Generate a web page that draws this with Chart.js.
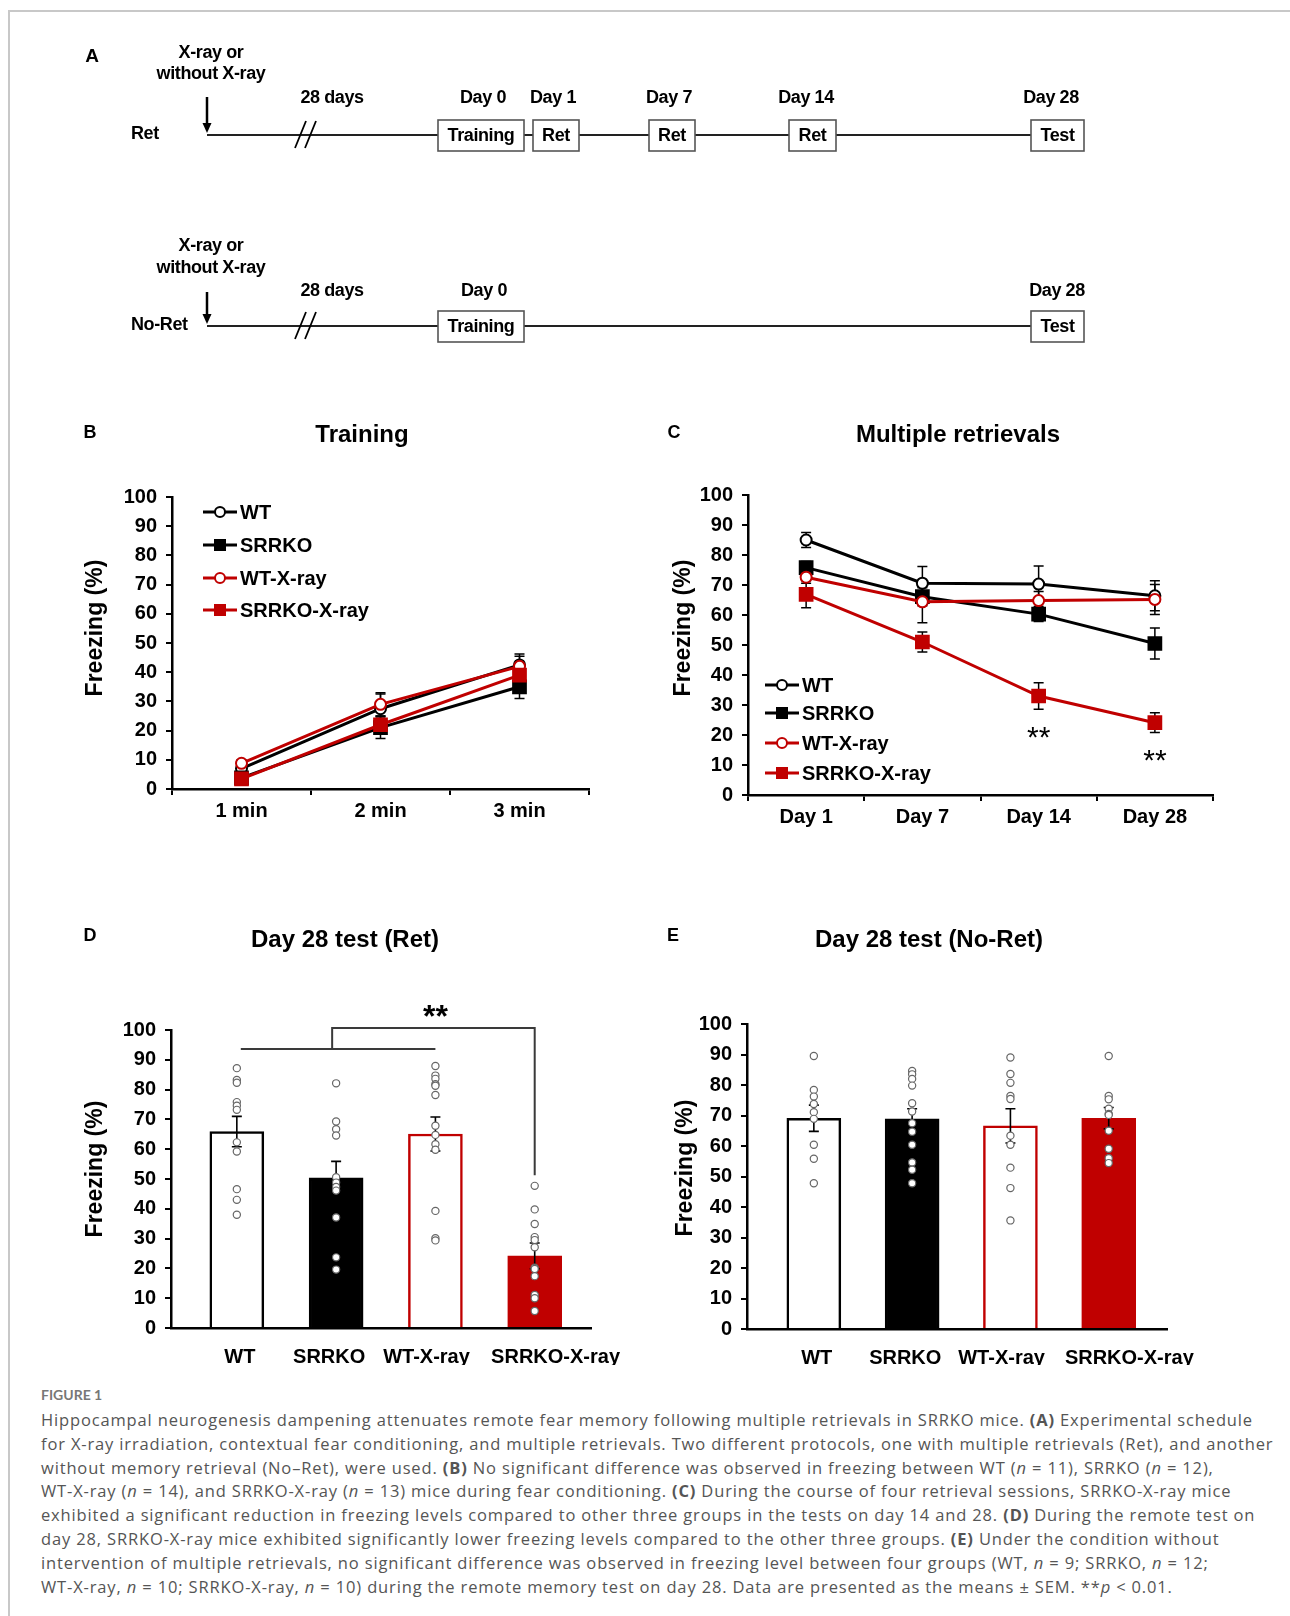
<!DOCTYPE html>
<html>
<head>
<meta charset="utf-8">
<script src="https://cdn.jsdelivr.net/npm/chart.js@4.4.0/dist/chart.umd.min.js"></script>
<style>
  body { margin: 0; background: #fff; }
  #page { position: relative; width: 1290px; height: 1616px; overflow: hidden; background: #fff;
          font-family: "Liberation Sans", Arial, sans-serif; }
  .frame { position: absolute; left: 8px; top: 10px; width: 1300px; height: 1620px;
           border-top: 2px solid #c8c8c8; border-left: 2px solid #c8c8c8; }
  canvas { position: absolute; }
  svg { position: absolute; left: 0; top: 0; pointer-events: none; }
  .figno { position: absolute; left: 41px; top: 1386px; font-family: Lato, "Open Sans", sans-serif;
           font-size: 14px; font-weight: bold; color: #777; }
  .caption { position: absolute; left: 41px; top: 1408px; font-family: "Open Sans", Lato, sans-serif;
             font-size: 16.5px; line-height: 23.8px; color: #555; white-space: nowrap; }
  .capline { display: inline-block; }
</style>
</head>
<body>
<div id="page">
  <div class="frame"></div>
  <canvas id="chartB"></canvas>
  <canvas id="chartC"></canvas>
  <canvas id="chartD"></canvas>
  <canvas id="chartE"></canvas>
  <svg id="overlay" width="1290" height="1380"></svg>
  <div class="figno">FIGURE 1</div>
  <div class="caption">
<div><span class="capline">Hippocampal neurogenesis dampening attenuates remote fear memory following multiple retrievals in SRRKO mice. <b>(A)</b> Experimental schedule</span></div>
<div><span class="capline">for X-ray irradiation, contextual fear conditioning, and multiple retrievals. Two different protocols, one with multiple retrievals (Ret), and another</span></div>
<div><span class="capline">without memory retrieval (No–Ret), were used. <b>(B)</b> No significant difference was observed in freezing between WT (<i>n</i> = 11), SRRKO (<i>n</i> = 12),</span></div>
<div><span class="capline">WT-X-ray (<i>n</i> = 14), and SRRKO-X-ray (<i>n</i> = 13) mice during fear conditioning. <b>(C)</b> During the course of four retrieval sessions, SRRKO-X-ray mice</span></div>
<div><span class="capline">exhibited a significant reduction in freezing levels compared to other three groups in the tests on day 14 and 28. <b>(D)</b> During the remote test on</span></div>
<div><span class="capline">day 28, SRRKO-X-ray mice exhibited significantly lower freezing levels compared to the other three groups. <b>(E)</b> Under the condition without</span></div>
<div><span class="capline">intervention of multiple retrievals, no significant difference was observed in freezing level between four groups (WT, <i>n</i> = 9; SRRKO, <i>n</i> = 12;</span></div>
<div><span class="capline">WT-X-ray, <i>n</i> = 10; SRRKO-X-ray, <i>n</i> = 10) during the remote memory test on day 28. Data are presented as the means ± SEM. **<i>p</i> &lt; 0.01.</span></div>
  </div>
</div>

<script>
// ---- data ----
const groups = ["WT", "SRRKO", "WT-X-ray", "SRRKO-X-ray"];
const yTicks = [0, 10, 20, 30, 40, 50, 60, 70, 80, 90, 100];

// B: training
const trainingLabels = ["1 min", "2 min", "3 min"];
const trainWT = [7, 27.5, 42.5];
const trainSRRKO = [3.8, 21, 35];
const trainWTX = [8.8, 29, 42];
const trainSRRKOX = [3.5, 22, 39];
const trainErrWT = [1.5, 5, 3.7];
const trainErrSRRKO = [1, 3.7, 4];
const trainErrWTX = [1.2, 4, 3.5];
const trainErrSRRKOX = [1, 3, 3];

// C: multiple retrievals
const retrievalLabels = ["Day 1", "Day 7", "Day 14", "Day 28"];
const retWT = [85, 70.6, 70.3, 66.4];
const retSRRKO = [75.8, 66.1, 60.3, 50.5];
const retWTX = [72.6, 64.4, 64.8, 65.2];
const retSRRKOX = [66.9, 51, 33, 24.1];
const retErrWT = [2.5, 5.6, 6, 5];
const retErrSRRKO = [2, 3, 2.5, 5.2];
const retErrWTX = [2, 7, 3, 5];
const retErrSRRKOX = [4.5, 3.3, 4.4, 3.3];
const retSigMarks = [{ index: 2, y: 21.7 }, { index: 3, y: 14.3 }];

// D / E group label positions on the x axis (labels sit a little off the bar centres)
const groupLabelPos = [0.03, 0.93, 1.91, 3.21];

// D: day 28 test (Ret)
const retTestMeans = [65.9, 50.4, 65.1, 24.2];
const retTestErr = [5.1, 5.5, 5.7, 4.3];
const retDotsWT = [87.2, 83.2, 82.3, 75.8, 74.6, 73.2, 62.3, 59.2, 46.6, 43.0, 38.0];
const retDotsSRRKO = [82.1, 69.3, 66.7, 64.6, 50.6, 48.8, 47.3, 46.1, 37.1, 23.7, 19.6];
const retDotsWTX = [87.9, 84.7, 83.6, 81.8, 81.3, 78.2, 67.9, 64.8, 61.7, 59.8, 39.3, 30.1, 29.4];
const retDotsSRRKOX = [47.7, 39.8, 34.9, 30.5, 29.5, 27.1, 20.2, 19.8, 17.4, 11.1, 10.0, 5.7];
const retBracket = { lowFrom: 0.04, lowTo: 2.0, join: 0.96, lowY: 93.6, topY: 100.7, to: 3.0, dropTo: 51.3, starX: 2.0, starY: 107.4 };

// E: day 28 test (No-Ret)
const noRetMeans = [69.1, 68.9, 66.6, 69.1];
const noRetErr = [4.3, 3.3, 5.6, 3.5];
const noRetDotsWT = [89.5, 78.4, 76.2, 73.8, 71.1, 68.9, 60.4, 55.8, 47.8];
const noRetDotsSRRKO = [84.6, 83.5, 82.0, 79.8, 74.0, 71.3, 67.5, 64.7, 60.4, 54.6, 52.2, 47.8];
const noRetDotsWTX = [89.0, 83.6, 80.7, 76.4, 75.4, 63.4, 60.4, 52.9, 46.2, 35.6];
const noRetDotsSRRKOX = [89.5, 76.4, 75.3, 72.2, 70.5, 70.2, 65.0, 59.1, 56.0, 54.4];

// ---- styles ----
const RED = "#c00000";
const FONT = "'Liberation Sans', Arial, sans-serif";
const seriesStyle = [
  { color: "#000", point: "circle", fill: "#fff", r: 5.5 },
  { color: "#000", point: "rect", fill: "#000", r: 9 },
  { color: RED, point: "circle", fill: "#fff", r: 5.5 },
  { color: RED, point: "rect", fill: RED, r: 9 }
];
const barFill = ["#fff", "#000", "#fff", RED];
const barEdge = ["#000", "#000", RED, RED];

function bold(size) { return { family: FONT, size: size, weight: "bold" }; }

// error bars (whiskers with caps)
function drawErrors(chart, i, opts) {
  const ds = chart.data.datasets[i];
  if (!ds.errors) return;
  const meta = chart.getDatasetMeta(i);
  const y = chart.scales.y;
  const ctx = chart.ctx;
  ctx.save();
  ctx.strokeStyle = "#000";
  ctx.lineWidth = opts.width;
  ds.errors.forEach((e, j) => {
    const raw = ds.data[j];
    const v = typeof raw === "object" ? raw.y : raw;
    const x = meta.data[j].x;
    const top = y.getPixelForValue(v + e), bot = y.getPixelForValue(v - e);
    ctx.beginPath();
    ctx.moveTo(x, top); ctx.lineTo(x, bot);
    ctx.moveTo(x - opts.cap, top); ctx.lineTo(x + opts.cap, top);
    ctx.moveTo(x - opts.cap, bot); ctx.lineTo(x + opts.cap, bot);
    ctx.stroke();
  });
  ctx.restore();
}
const errorBarPlugin = {
  id: "errorBars",
  beforeDatasetsDraw(chart, args, opts) {
    if (opts.stage !== "before") return;
    chart.data.datasets.forEach((ds, i) => drawErrors(chart, i, opts));
  },
  afterDatasetDraw(chart, args, opts) {
    if (opts.stage !== "after") return;
    drawErrors(chart, args.index, opts);
  }
};

function stars(ctx, x, cy, size, weight) {
  ctx.save();
  ctx.fillStyle = "#000";
  ctx.font = weight + " " + size + "px " + FONT;
  ctx.textAlign = "center";
  ctx.textBaseline = "alphabetic";
  ctx.fillText("**", x, cy + size * 0.58);
  ctx.restore();
}

const sigPlugin = {
  id: "sigMarks",
  afterDatasetsDraw(chart) {
    const x = chart.scales.x, y = chart.scales.y;
    retSigMarks.forEach(m => stars(chart.ctx, x.getPixelForValue(m.index), y.getPixelForValue(m.y), 30, "normal"));
  }
};

const bracketPlugin = {
  id: "bracket",
  afterDatasetsDraw(chart) {
    const x = chart.scales.x, y = chart.scales.y, b = retBracket, ctx = chart.ctx;
    ctx.save();
    ctx.strokeStyle = "#3a3a3a";
    ctx.lineWidth = 2;
    ctx.beginPath();
    ctx.moveTo(x.getPixelForValue(b.lowFrom), y.getPixelForValue(b.lowY));
    ctx.lineTo(x.getPixelForValue(b.lowTo), y.getPixelForValue(b.lowY));
    ctx.moveTo(x.getPixelForValue(b.join), y.getPixelForValue(b.lowY));
    ctx.lineTo(x.getPixelForValue(b.join), y.getPixelForValue(b.topY));
    ctx.lineTo(x.getPixelForValue(b.to), y.getPixelForValue(b.topY));
    ctx.lineTo(x.getPixelForValue(b.to), y.getPixelForValue(b.dropTo));
    ctx.stroke();
    ctx.restore();
    stars(ctx, x.getPixelForValue(b.starX), y.getPixelForValue(b.starY), 32, "bold");
  }
};

function placeCanvas(id, box) {
  const c = document.getElementById(id);
  c.width = box.w; c.height = box.h;
  c.style.left = box.left + "px"; c.style.top = box.top + "px";
  c.style.width = box.w + "px"; c.style.height = box.h + "px";
  return c;
}

function yAxis(box, area) {
  return {
    min: 0, max: 100,
    afterBuildTicks: s => { s.ticks = yTicks.map(v => ({ value: v })); },
    ticks: { color: "#000", font: bold(20), padding: 9 },
    grid: { drawOnChartArea: false, tickLength: 6, color: "#000", lineWidth: 2 },
    border: { color: "#000", width: 2.5 },
    afterFit: s => { s.width = area.left - box.left; }
  };
}

function baseOptions(box, area) {
  return {
    responsive: false, animation: false, devicePixelRatio: 1,
    layout: { padding: { top: area.top - box.top, right: box.left + box.w - area.right, left: 0, bottom: 0 } },
    plugins: { legend: { display: false }, tooltip: { enabled: false } }
  };
}

function lineChart(id, box, area, labels, series, errs, extra) {
  const opts = baseOptions(box, area);
  opts.plugins.errorBars = { stage: "before", width: 1.5, cap: 5 };
  opts.scales = {
    x: {
      offset: true,
      grid: { offset: true, drawOnChartArea: false, tickLength: 6, color: "#000", lineWidth: 2 },
      border: { color: "#000", width: 2.5 },
      ticks: { color: "#000", font: bold(20), padding: 4, maxRotation: 0 },
      afterFit: s => { s.height = box.top + box.h - area.bottom; }
    },
    y: yAxis(box, area)
  };
  new Chart(placeCanvas(id, box), {
    type: "line",
    data: {
      labels: labels,
      datasets: series.map((d, i) => ({
        label: groups[i], data: d, errors: errs[i], order: 3 - i,
        borderColor: seriesStyle[i].color, borderWidth: 3, tension: 0, fill: false,
        pointStyle: seriesStyle[i].point, pointRadius: seriesStyle[i].r,
        pointBackgroundColor: seriesStyle[i].fill, pointBorderColor: seriesStyle[i].color, pointBorderWidth: 2
      }))
    },
    options: opts,
    plugins: [errorBarPlugin].concat(extra)
  });
}

function barChart(id, box, area, xRange, means, errs, dots, extra) {
  const opts = baseOptions(box, area);
  opts.plugins.errorBars = { stage: "after", width: 1.6, cap: 5 };
  opts.scales = {
    x: {
      type: "linear", min: xRange[0], max: xRange[1], offset: false,
      afterBuildTicks: s => { s.ticks = groupLabelPos.map(p => ({ value: p })); },
      grid: { display: false },
      border: { color: "#000", width: 2.5 },
      ticks: { autoSkip: false, maxRotation: 0, color: "#000", font: bold(20), padding: 9,
               callback: (v, idx) => groups[idx] },
      afterFit: s => { s.height = box.top + box.h - area.bottom; }
    },
    y: yAxis(box, area)
  };
  new Chart(placeCanvas(id, box), {
    type: "bar",
    data: {
      datasets: [
        {
          type: "scatter", order: 0,
          data: dots.flatMap((arr, i) => arr.map(v => ({ x: i, y: v }))),
          pointRadius: 3.6, pointBackgroundColor: "#fff", pointBorderColor: "#666", pointBorderWidth: 1.2
        },
        {
          type: "bar", order: 1,
          data: means.map((v, i) => ({ x: i, y: v })), errors: errs,
          backgroundColor: barFill, borderColor: barEdge, borderWidth: 2.5, barThickness: 54
        }
      ]
    },
    options: opts,
    plugins: [errorBarPlugin].concat(extra)
  });
}

lineChart("chartB", { left: 60, top: 470, w: 560, h: 360 }, { left: 172, right: 589, top: 497, bottom: 789 },
  trainingLabels, [trainWT, trainSRRKO, trainWTX, trainSRRKOX],
  [trainErrWT, trainErrSRRKO, trainErrWTX, trainErrSRRKOX], []);

lineChart("chartC", { left: 640, top: 470, w: 600, h: 370 }, { left: 748, right: 1213, top: 495, bottom: 795 },
  retrievalLabels, [retWT, retSRRKO, retWTX, retSRRKOX],
  [retErrWT, retErrSRRKO, retErrWTX, retErrSRRKOX], [sigPlugin]);

barChart("chartD", { left: 60, top: 990, w: 590, h: 375 }, { left: 171, right: 591, top: 1030, bottom: 1328 },
  [-0.663, 3.567], retTestMeans, retTestErr, [retDotsWT, retDotsSRRKO, retDotsWTX, retDotsSRRKOX], [bracketPlugin]);

barChart("chartE", { left: 640, top: 990, w: 620, h: 375 }, { left: 747, right: 1167, top: 1024, bottom: 1329 },
  [-0.68, 3.593], noRetMeans, noRetErr, [noRetDotsWT, noRetDotsSRRKO, noRetDotsWTX, noRetDotsSRRKOX], []);

// ---- overlay text: schedule (A), panel letters, titles, axis titles, legends ----
function txt(x, y, s, size, anchor, extra) {
  return `<text x="${x}" y="${y}" font-family="${FONT}" font-size="${size}" font-weight="bold" ` +
    `text-anchor="${anchor || "middle"}" dominant-baseline="central" ${extra || ""}>${s}</text>`;
}
let svg = "";

// panel A schedule
const tight = 'letter-spacing="-0.4"';
const scheduleRows = [
  { name: "Ret", lineY: 135, xray: [52, 73], arrow: [97, 133], labelY: 97,
    boxes: [["Training", 438, 524], ["Ret", 533, 579], ["Ret", 649, 695], ["Ret", 789, 836], ["Test", 1031, 1084]],
    days: [["Day 0", 483], ["Day 1", 553], ["Day 7", 669], ["Day 14", 806], ["Day 28", 1051]] },
  { name: "No-Ret", lineY: 326, xray: [245, 267], arrow: [292, 324], labelY: 290,
    boxes: [["Training", 438, 524], ["Test", 1031, 1084]],
    days: [["Day 0", 484], ["Day 28", 1057]] }
];
svg += txt(92, 55, "A", 19);
scheduleRows.forEach(r => {
  svg += txt(211, r.xray[0], "X-ray or", 18, "middle", tight);
  svg += txt(211, r.xray[1], "without X-ray", 18, "middle", tight);
  svg += txt(131, r.lineY - 2, r.name, 18, "start", tight);
  svg += `<line x1="207" y1="${r.lineY}" x2="1031" y2="${r.lineY}" stroke="#222" stroke-width="2"/>`;
  svg += `<line x1="207" y1="${r.arrow[0]}" x2="207" y2="${r.arrow[1] - 8}" stroke="#000" stroke-width="2.5"/>`;
  svg += `<polygon points="202.5,${r.arrow[1] - 10} 211.5,${r.arrow[1] - 10} 207,${r.arrow[1]}" fill="#000"/>`;
  svg += `<line x1="295" y1="${r.lineY + 13}" x2="306" y2="${r.lineY - 14}" stroke="#000" stroke-width="1.8"/>`;
  svg += `<line x1="305" y1="${r.lineY + 13}" x2="316" y2="${r.lineY - 14}" stroke="#000" stroke-width="1.8"/>`;
  svg += txt(332, r.labelY, "28 days", 18, "middle", tight);
  r.days.forEach(d => { svg += txt(d[1], r.labelY, d[0], 18, "middle", tight); });
  r.boxes.forEach(b => {
    svg += `<rect x="${b[1]}" y="${r.lineY - 15}" width="${b[2] - b[1]}" height="31" fill="#fff" stroke="#555" stroke-width="1.6"/>`;
    svg += txt((b[1] + b[2]) / 2, r.lineY, b[0], 18, "middle", tight);
  });
});

// panel letters and titles
[["B", 90, 432], ["C", 674, 432], ["D", 90, 935], ["E", 673, 935]].forEach(p => { svg += txt(p[1], p[2], p[0], 18); });
[["Training", 362, 433], ["Multiple retrievals", 958, 433], ["Day 28 test (Ret)", 345, 938], ["Day 28 test (No-Ret)", 929, 938]]
  .forEach(t => { svg += txt(t[1], t[2], t[0], 24); });

// y axis titles
[[94, 628], [682, 628], [94, 1169], [684, 1168]].forEach(p => {
  svg += txt(p[0], p[1], "Freezing (%)", 23, "middle", `transform="rotate(-90 ${p[0]} ${p[1]})"`);
});

// legends for B and C
function legend(x0, rows) {
  groups.forEach((g, i) => {
    const st = seriesStyle[i], y = rows[i], mx = x0 + 17;
    svg += `<line x1="${x0}" y1="${y}" x2="${x0 + 34}" y2="${y}" stroke="${st.color}" stroke-width="3"/>`;
    if (st.point === "circle") {
      svg += `<circle cx="${mx}" cy="${y}" r="5" fill="#fff" stroke="${st.color}" stroke-width="2"/>`;
    } else {
      svg += `<rect x="${mx - 6}" y="${y - 6}" width="12" height="12" fill="${st.fill}"/>`;
    }
    svg += txt(x0 + 37, y, g, 20, "start");
  });
}
legend(203, [512, 545, 578, 610]);
legend(765, [685, 713, 743, 773]);

document.getElementById("overlay").innerHTML = svg;

// stretch the caption so its first line spans the same width as in the figure
const capLines = document.querySelectorAll(".capline");
const firstW = capLines[0].getBoundingClientRect().width;
const spacing = (1212 - firstW) / capLines[0].textContent.length;
document.querySelector(".caption").style.letterSpacing = spacing.toFixed(3) + "px";
</script>
</body>
</html>
